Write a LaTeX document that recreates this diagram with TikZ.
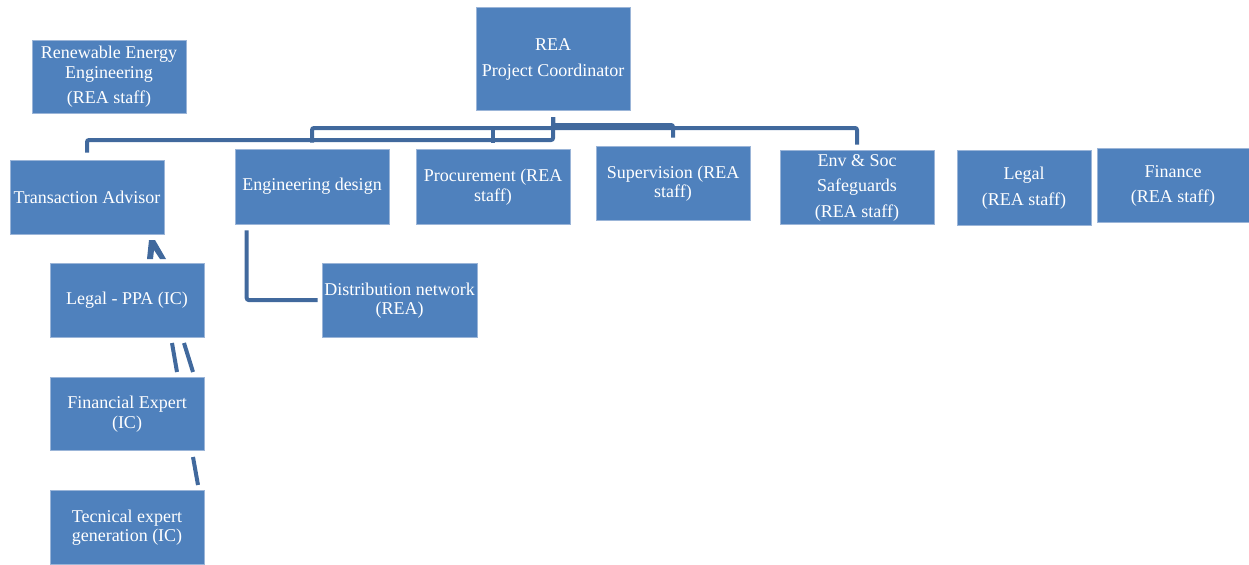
\documentclass[tikz,border=0pt]{standalone}
\usepackage{fontspec}
\setmainfont{Liberation Serif}
\definecolor{boxblue}{HTML}{4F81BD}
\definecolor{boxedge}{HTML}{9BB5D8}
\definecolor{lineblue}{HTML}{41699D}
\tikzset{
  unit/.style={rectangle,fill=boxblue,draw=boxedge,line width=0.4pt,text=white,align=center,
    inner sep=0pt,minimum width=115.5pt,minimum height=55.5pt,
    font=\fontsize{13.5}{14.6}\selectfont},
  conn/.style={draw=lineblue,line width=3pt,rounded corners=1.5pt}
}
\begin{document}
\begin{tikzpicture}[x=0.75pt,y=-0.75pt]
\useasboundingbox (0,0) rectangle (1249,564);

\node[unit,minimum height=77.25pt] (coord) at (553,58.5) {\strut REA\\[4.6pt]Project Coordinator};
\node[unit,minimum height=54.75pt] (ree) at (109,76.5) {\strut Renewable Energy\\Engineering\\[4.6pt](REA staff)};

\node[unit] (trans) at (87,197) {Transaction Advisor};
\node[unit,minimum height=56.25pt] (engdes) at (312,186.5) {Engineering design};
\node[unit,minimum height=56.25pt] (proc) at (493,186.5) {\strut Procurement (REA\\staff)};
\node[unit] (superv) at (673,183) {\strut Supervision (REA\\staff)};
\node[unit] (envsoc) at (857,187) {\strut Env \& Soc\\[4.6pt]Safeguards\\[4.6pt](REA staff)};
\node[unit,minimum width=100.5pt,minimum height=56.25pt] (legal) at (1024,187.5) {\strut Legal\\[4.6pt](REA staff)};
\node[unit,minimum width=114pt] (finance) at (1173,185) {\strut Finance\\[4.6pt](REA staff)};

\node[unit] (ppa) at (127,300) {Legal - PPA (IC)};
\node[unit,minimum height=54.75pt] (finexp) at (127,413.5) {\strut Financial Expert\\(IC)};
\node[unit] (tecexp) at (127,527) {\strut Tecnical expert\\generation (IC)};
\node[unit,minimum width=116.25pt] (distnet) at (399.5,300) {\strut Distribution network\\(REA)};

\coordinate (hub) at (553,117);

\draw[conn] (hub) -- (553,140) -| ([yshift=5.25pt]trans.north);
\draw[conn] (hub) -- (553,128) -| ([yshift=4.5pt]engdes.north);
\draw[conn] ([yshift=4.5pt]proc.north) -- ++(0,-15);
\draw[conn] (hub) -- (553,125) -| ([yshift=6pt]superv.north);
\draw[conn] (553,128) -| ([yshift=3.75pt]envsoc.north);
\draw[conn] ([xshift=9pt,yshift=-4.5pt]engdes.south west) |- ([xshift=-3pt]distnet.west);

% broken links on the left
\fill[lineblue] (147,259) -- (149,240) -- (155,240) -- (166,259) -- (160,259) -- (154,250) -- (153,259) -- cycle;
\draw[conn] (172,343) -- (177,372);
\draw[conn] (184,343) -- (193,372);
\draw[conn] (193,457) -- (198,485);

\end{tikzpicture}
\end{document}
